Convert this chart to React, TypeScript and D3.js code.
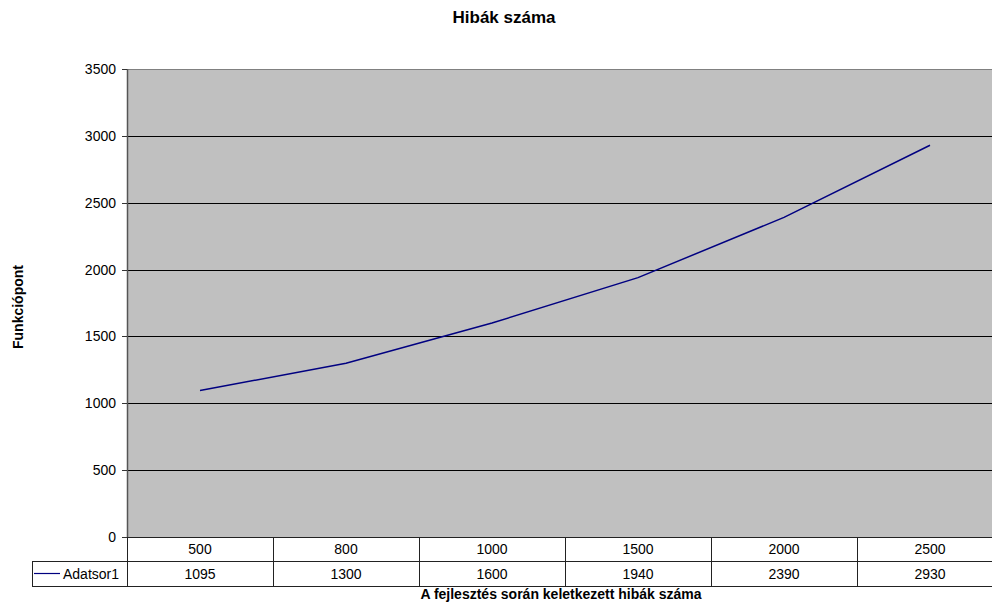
import React from "react";
import * as d3 from "d3";

const categories = ["500", "800", "1000", "1500", "2000", "2500"];
const seriesName = "Adatsor1";
const values = [1095, 1300, 1600, 1940, 2390, 2930];
const yTicks = [0, 500, 1000, 1500, 2000, 2500, 3000, 3500];
const title = "Hibák száma";
const xTitle = "A fejlesztés során keletkezett hibák száma";
const yTitle = "Funkciópont";

const W = 992;
const H = 604;
const left = 127;
const right = 1003;
const top = 69;
const bottom = 537;
const rowH = 24.5;
const legendLeft = 32;
const font = "Arial, 'Liberation Sans', Helvetica, sans-serif";

export default function App() {
  const x = d3.scaleBand<string>().domain(categories).range([left, right]).padding(0);
  const y = d3.scaleLinear().domain([0, 3500]).range([bottom, top]);
  const cx = (c: string) => (x(c) ?? 0) + x.bandwidth() / 2;

  const line = d3
    .line<number>()
    .x((_, i) => cx(categories[i]))
    .y((v) => y(v));

  const row1 = bottom + rowH;
  const row2 = bottom + rowH * 2;

  return (
    <div style={{ position: "fixed", left: 0, top: 0 }}>
      <svg width={W} height={H} style={{ display: "block", background: "#fff" }} fontFamily={font}>
        <text x={504} y={23} textAnchor="middle" fontSize={17} fontWeight="bold">
          {title}
        </text>

        {/* plot area */}
        <rect x={left} y={top} width={right - left} height={bottom - top} fill="#c0c0c0" stroke="#808080" strokeWidth={1} shapeRendering="crispEdges" />

        {/* gridlines */}
        {yTicks.slice(1, -1).map((t) => (
          <line key={t} x1={left} x2={right} y1={Math.round(y(t)) + 0.5} y2={Math.round(y(t)) + 0.5} stroke="#000" strokeWidth={1} />
        ))}

        {/* y axis */}
        <line x1={left + 0.5} x2={left + 0.5} y1={top} y2={bottom} stroke="#555" strokeWidth={1.5} />
        {yTicks.map((t) => (
          <g key={t}>
            <line x1={122} x2={left} y1={Math.round(y(t)) + 0.5} y2={Math.round(y(t)) + 0.5} stroke="#333" />
            <text x={116} y={y(t) + 5} textAnchor="end" fontSize={14}>
              {t}
            </text>
          </g>
        ))}

        {/* data table */}
        <g stroke="#222" strokeWidth={1} shapeRendering="crispEdges" fill="none">
          <line x1={left} x2={right} y1={bottom + 0.5} y2={bottom + 0.5} />
          <line x1={left} x2={right} y1={row1} y2={row1} />
          <line x1={legendLeft} x2={left} y1={row1} y2={row1} />
          <line x1={legendLeft} x2={right} y1={row2} y2={row2} />
          <line x1={legendLeft} x2={legendLeft} y1={row1} y2={row2} />
          {categories.map((c) => (
            <line key={c} x1={x(c)} x2={x(c)} y1={bottom} y2={row2} />
          ))}
          <line x1={right} x2={right} y1={bottom} y2={row2} />
        </g>
        {categories.map((c, i) => (
          <g key={c} fontSize={14} textAnchor="middle">
            <text x={cx(c)} y={bottom + 17}>{c}</text>
            <text x={cx(c)} y={row1 + 17}>{values[i]}</text>
          </g>
        ))}
        <line x1={34} x2={60} y1={row1 + 12} y2={row1 + 12} stroke="#000080" strokeWidth={1.2} />
        <text x={63} y={row1 + 17} fontSize={14}>
          {seriesName}
        </text>

        {/* series */}
        <path d={line(values) ?? ""} fill="none" stroke="#000080" strokeWidth={1.5} />

        <text x={561} y={599} textAnchor="middle" fontSize={14} fontWeight="bold">
          {xTitle}
        </text>
        <text transform={`translate(23,307) rotate(-90)`} textAnchor="middle" fontSize={14} fontWeight="bold">
          {yTitle}
        </text>
      </svg>
    </div>
  );
}
